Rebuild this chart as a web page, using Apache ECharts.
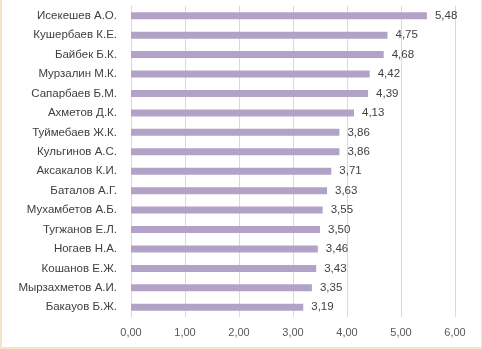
<!DOCTYPE html>
<html><head><meta charset="utf-8">
<script src="https://cdn.jsdelivr.net/npm/echarts@6/dist/echarts.min.js"></script>
<style>
html,body{margin:0;padding:0;background:#fff;}
#frame{position:absolute;left:0;top:-2px;width:479px;height:347px;border:2px solid #f3e6c6;}
#c{position:absolute;left:0;top:0;width:482px;height:349px;}
</style></head>
<body>
<div id="frame"></div>
<div id="c"></div>
<script>
const names = ["Исекешев А.О.","Кушербаев К.Е.","Байбек Б.К.","Мурзалин М.К.","Сапарбаев Б.М.","Ахметов Д.К.","Туймебаев Ж.К.","Кульгинов А.С.","Аксакалов К.И.","Баталов А.Г.","Мухамбетов А.Б.","Тугжанов Е.Л.","Ногаев Н.А.","Кошанов Е.Ж.","Мырзахметов А.И.","Бакауов Б.Ж."];
const values = [5.48,4.75,4.68,4.42,4.39,4.13,3.86,3.86,3.71,3.63,3.55,3.50,3.46,3.43,3.35,3.19];
const fmt = v => v.toFixed(2).replace('.', ',');
const chart = echarts.init(document.getElementById('c'), null, {renderer:'canvas'});
chart.setOption({
  animation:false,
  grid:{left:131,right:27,top:6,bottom:32,containLabel:false},
  xAxis:{type:'value',min:0,max:6,interval:1,
    axisLine:{show:false},axisTick:{show:false},
    splitLine:{lineStyle:{color:'#d9d9d9',width:1}},
    axisLabel:{formatter:fmt,color:'#595959',fontFamily:'Liberation Sans',fontSize:11,margin:10}},
  yAxis:{type:'category',data:names,inverse:true,
    axisLine:{lineStyle:{color:'#d9d9d9'}},axisTick:{show:false},
    axisLabel:{color:'#404040',fontFamily:'Liberation Sans',fontSize:11.5,margin:14}},
  series:[{type:'bar',data:values,barWidth:7,itemStyle:{color:'#b3a2c7'},
    label:{show:true,position:'right',distance:8,formatter:p=>fmt(p.value),color:'#404040',fontFamily:'Liberation Sans',fontSize:11.5}}]
});
</script>
</body></html>
